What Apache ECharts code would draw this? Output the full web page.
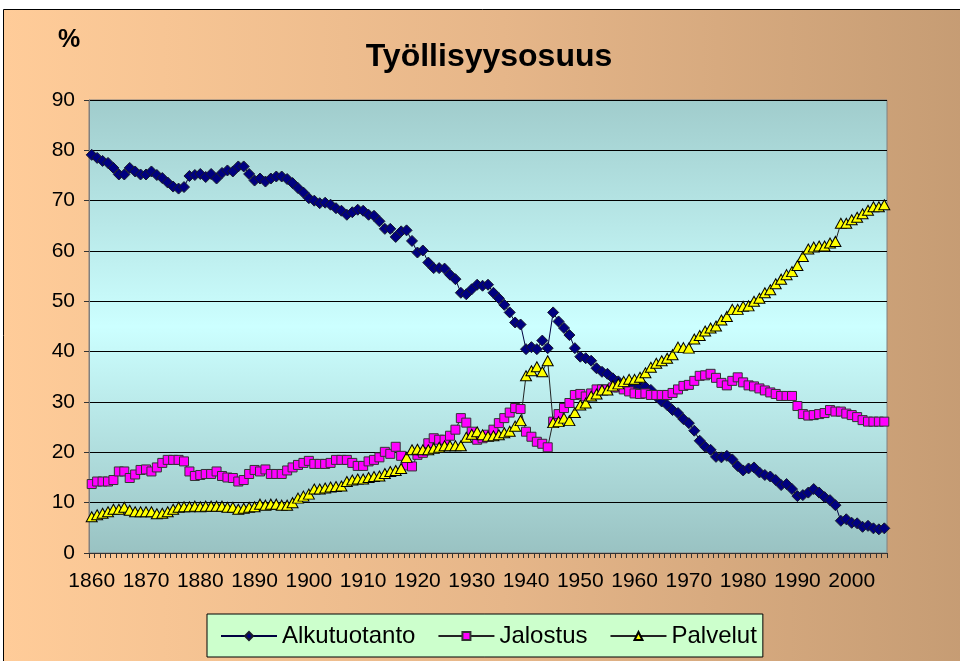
<!DOCTYPE html>
<html>
<head>
<meta charset="utf-8">
<script src="https://cdn.jsdelivr.net/npm/echarts@6/dist/echarts.min.js"></script>
<style>
html,body{margin:0;padding:0;background:#fff;}
#chart{width:960px;height:661px;}
</style>
</head>
<body>
<div id="chart"></div>
<script>
// Years 1860–2006
var years = [];
for (var y = 1860; y <= 2006; y++) years.push(String(y));

var alkutuotanto = [
79.1,78.5,77.9,77.5,76.5,75.2,75.2,76.5,75.8,75.2,
75.2,75.8,75.1,74.5,73.6,72.8,72.4,72.7,74.9,75.1,
75.3,74.7,75.3,74.4,75.5,76.0,75.8,76.8,76.8,75.3,
74.0,74.4,73.8,74.4,74.8,74.8,74.3,73.5,72.5,71.6,
70.5,70.0,69.5,69.6,69.2,68.5,68.0,67.2,67.7,68.2,
68.0,67.2,67.0,65.9,64.4,64.4,62.8,63.9,64.1,62.0,
59.7,60.1,57.7,56.6,56.6,56.5,55.3,54.4,51.7,51.4,
52.4,53.3,53.1,53.3,51.7,50.6,49.3,47.8,45.8,45.4,
40.5,40.9,40.5,42.2,40.7,47.8,46.0,44.7,43.3,40.7,
39.0,38.7,38.2,36.7,36.0,35.6,34.7,34.1,33.7,33.4,
33.3,33.2,33.0,32.4,31.1,30.1,29.4,28.4,27.8,26.6,
25.8,24.3,22.3,21.1,20.5,19.1,19.0,19.3,18.6,17.3,
16.4,16.8,17.0,16.0,15.5,15.2,14.5,13.5,13.7,12.7,
11.3,11.5,12.0,12.7,12.0,11.1,10.5,9.5,6.4,6.7,
6.0,5.9,5.2,5.4,4.9,4.7,4.9
];

var jalostus = [
13.7,14.2,14.2,14.2,14.5,16.2,16.2,14.9,15.6,16.5,
16.6,16.2,17.0,17.9,18.5,18.5,18.5,18.2,16.2,15.3,
15.5,15.7,15.7,16.2,15.3,15.0,14.9,14.2,14.5,15.7,
16.5,16.2,16.6,15.7,15.7,15.7,16.4,17.0,17.5,17.9,
18.3,17.7,17.7,17.7,17.9,18.5,18.5,18.5,17.9,17.3,
17.3,18.2,18.5,19.0,20.1,19.7,21.1,19.3,17.4,17.2,
19.5,19.9,21.8,22.8,22.5,22.5,23.3,24.5,26.8,25.9,
24.1,22.5,22.8,23.5,24.5,25.8,26.8,27.9,28.8,28.6,
24.1,23.1,22.1,21.7,21.0,26.1,27.6,28.8,29.8,31.4,
31.6,31.1,31.7,32.5,32.5,32.5,32.9,32.9,32.5,32.1,
31.7,31.6,31.7,31.4,31.4,31.4,31.4,31.8,32.5,33.2,
33.4,34.2,35.2,35.3,35.6,34.8,33.8,33.3,34.2,34.9,
33.9,33.3,33.1,32.7,32.3,31.9,31.6,31.2,31.2,31.2,
29.2,27.6,27.3,27.4,27.6,27.8,28.4,28.1,28.1,27.7,
27.4,27.0,26.4,26.1,26.1,26.1,26.1
];

var palvelut = [
7.2,7.6,7.9,8.2,8.7,8.7,9.1,8.5,8.2,8.2,
8.2,8.2,7.8,7.9,8.2,8.7,9.1,9.2,9.2,9.3,
9.2,9.3,9.3,9.3,9.3,9.1,9.1,8.7,8.9,9.1,
9.2,9.7,9.5,9.7,9.7,9.5,9.5,10.0,10.9,11.3,
11.7,12.7,12.7,12.9,13.1,13.2,13.3,14.2,14.5,14.7,
14.7,15.0,15.2,15.3,15.8,16.2,16.4,16.8,19.0,20.5,
20.6,20.5,20.5,20.8,21.0,21.3,21.3,21.3,21.3,23.0,
23.6,24.1,23.5,23.2,23.3,23.5,23.9,24.2,25.2,26.3,
35.2,36.2,37.0,36.0,38.2,25.9,26.1,26.8,26.3,27.9,
29.4,29.8,31.2,31.6,32.4,32.4,33.2,33.6,34.1,34.5,
34.5,34.9,35.8,36.9,37.7,38.2,38.7,39.4,40.9,40.8,
40.7,42.5,43.2,44.1,44.7,45.1,46.3,47.0,48.4,48.4,
49.0,49.1,50.0,50.6,51.7,52.3,53.5,54.4,55.3,55.9,
57.1,58.9,60.4,60.8,61.0,61.0,61.6,61.9,65.5,65.5,
66.2,66.7,67.4,68.1,68.8,68.8,69.2
];

var seriesNames = ['Alkutuotanto', 'Jalostus', 'Palvelut'];
var yTicks = [0, 10, 20, 30, 40, 50, 60, 70, 80, 90];

var FONT = 'Liberation Sans, Arial, sans-serif';
var chart = echarts.init(document.getElementById('chart'), null, {renderer: 'canvas'});

var option = {
  backgroundColor: '#ffffff',
  animation: false,
  graphic: [
    {
      type: 'rect', z: -100, silent: true,
      shape: {x: 3.5, y: 9.5, width: 1000, height: 700},
      style: {
        fill: new echarts.graphic.LinearGradient(0, 0, 1, 0, [
          {offset: 0, color: '#FFCC99'},
          {offset: 0.5, color: '#E6B689'},
          {offset: 1, color: '#C39A72'}
        ]),
        stroke: '#000', lineWidth: 1
      }
    },
    {
      type: 'text', z: 10, x: 489, y: 57,
      style: {text: 'Työllisyysosuus', fill: '#000', font: 'bold 32px ' + FONT,
              textAlign: 'center', textVerticalAlign: 'middle'}
    },
    {
      type: 'text', z: 10, x: 69, y: 40,
      style: {text: '%', fill: '#000', font: 'bold 25px ' + FONT,
              textAlign: 'center', textVerticalAlign: 'middle'}
    }
  ],
  grid: {
    left: 89, right: 73, top: 100, bottom: 108,
    show: true,
    borderColor: '#808080', borderWidth: 1,
    backgroundColor: new echarts.graphic.LinearGradient(0, 0, 0, 1, [
      {offset: 0, color: '#A0CCCC'},
      {offset: 0.5, color: '#CCFFFF'},
      {offset: 1, color: '#99C2C2'}
    ])
  },
  legend: {
    data: seriesNames,
    left: 207, top: 614,
    padding: [10, 6, 9, 13],
    itemGap: 22,
    itemWidth: 56, itemHeight: 10,
    backgroundColor: '#CCFFCC',
    borderColor: '#000', borderWidth: 1, borderRadius: 0,
    textStyle: {fontSize: 24, fontFamily: FONT, color: '#000'}
  },
  xAxis: {
    type: 'category',
    data: years,
    boundaryGap: true,
    axisLine: {show: true, lineStyle: {color: '#333', width: 1}},
    axisTick: {show: true, interval: 0, length: 5, lineStyle: {color: '#333'}},
    axisLabel: {interval: 9, fontSize: 21, fontFamily: FONT, color: '#000', margin: 18},
    splitLine: {show: false}
  },
  yAxis: {
    type: 'value',
    min: yTicks[0], max: yTicks[yTicks.length - 1], interval: 10,
    axisLine: {show: true, lineStyle: {color: '#808080', width: 1}},
    axisTick: {show: true, length: 5, lineStyle: {color: '#333'}},
    axisLabel: {fontSize: 21, fontFamily: FONT, color: '#000', margin: 14},
    splitLine: {show: true, lineStyle: {color: '#000', width: 1}}
  },
  series: [
    {
      name: seriesNames[0], type: 'line', data: alkutuotanto,
      symbol: 'diamond', symbolSize: [11, 11], showAllSymbol: true,
      lineStyle: {color: '#000040', width: 1},
      itemStyle: {color: '#000080', borderColor: '#1a1a2a', borderWidth: 1}
    },
    {
      name: seriesNames[1], type: 'line', data: jalostus,
      symbol: 'rect', symbolSize: 9, showAllSymbol: true,
      lineStyle: {color: '#222', width: 1},
      itemStyle: {color: '#FF00FF', borderColor: '#333', borderWidth: 1}
    },
    {
      name: seriesNames[2], type: 'line', data: palvelut,
      symbol: 'triangle', symbolSize: [11, 10], showAllSymbol: true,
      lineStyle: {color: '#222', width: 1},
      itemStyle: {color: '#FFFF00', borderColor: '#000', borderWidth: 1}
    }
  ]
};
chart.setOption(option);
</script>
</body>
</html>
